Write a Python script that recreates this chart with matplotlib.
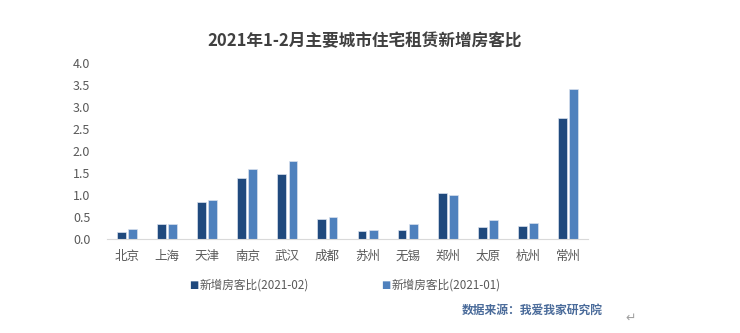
import matplotlib.pyplot as plt
import numpy as np

plt.rcParams['font.family'] = ['Noto Sans CJK SC', 'DejaVu Sans']

# 新增房客比, 主要城市
cities = ['北京', '上海', '天津', '南京', '武汉', '成都', '苏州', '无锡', '郑州', '太原', '杭州', '常州']
feb = [0.16, 0.34, 0.85, 1.39, 1.47, 0.45, 0.18, 0.20, 1.05, 0.27, 0.30, 2.76]
jan = [0.23, 0.34, 0.89, 1.58, 1.78, 0.51, 0.20, 0.34, 1.00, 0.43, 0.36, 3.40]
series_names = ['新增房客比(2021-02)', '新增房客比(2021-01)']
yticks = [0.0, 0.5, 1.0, 1.5, 2.0, 2.5, 3.0, 3.5, 4.0]

dark = '#1f497d'
light = '#4f81bd'
grey = '#595959'

fig = plt.figure(figsize=(7.4, 3.33), dpi=100)
ax = fig.add_axes([0.1446, 0.2823, 0.65, 0.5285])

x = np.arange(len(cities))
w = 0.22
ax.bar(x - 0.14, feb, w, color=dark, edgecolor='#d9e1ee', linewidth=0.5)
ax.bar(x + 0.14, jan, w, color=light, edgecolor='#d9e1ee', linewidth=0.5)

ax.set_xlim(-0.5, len(cities) - 0.5)
ax.set_ylim(0, 4)
ax.set_yticks(yticks)
ax.set_yticklabels([f'{v:.1f}' for v in yticks])
ax.set_xticks(x)
ax.set_xticklabels(cities)
ax.tick_params(axis='both', length=0, labelsize=9, colors=grey)
ax.tick_params(axis='x', pad=8)
ax.tick_params(axis='y', pad=12)
for s in ['top', 'right', 'left']:
    ax.spines[s].set_visible(False)
ax.spines['bottom'].set_color('#d9d9d9')

fig.text(0.493, 0.878, '2021年1-2月主要城市住宅租赁新增房客比', ha='center', va='center',
         fontsize=12, fontweight='bold', color='#404040')

# legend
for lx, c, name in [(0.262, dark, series_names[0]), (0.521, light, series_names[1])]:
    fig.text(lx, 0.145, '■', color=c, fontsize=7, ha='center', va='center', family='DejaVu Sans')
    fig.text(lx + 0.008, 0.145, name, color=grey, fontsize=8.4, ha='left', va='center')

fig.text(0.815, 0.067, '数据来源：我爱我家研究院', ha='right', va='center',
         fontsize=8.5, fontweight='bold', color='#4a6b9a')
fig.text(0.852, 0.045, '↵', ha='center', va='center', fontsize=9, color='#a0a0a0',
         family='DejaVu Sans')

fig.savefig('out.png', dpi=100)
